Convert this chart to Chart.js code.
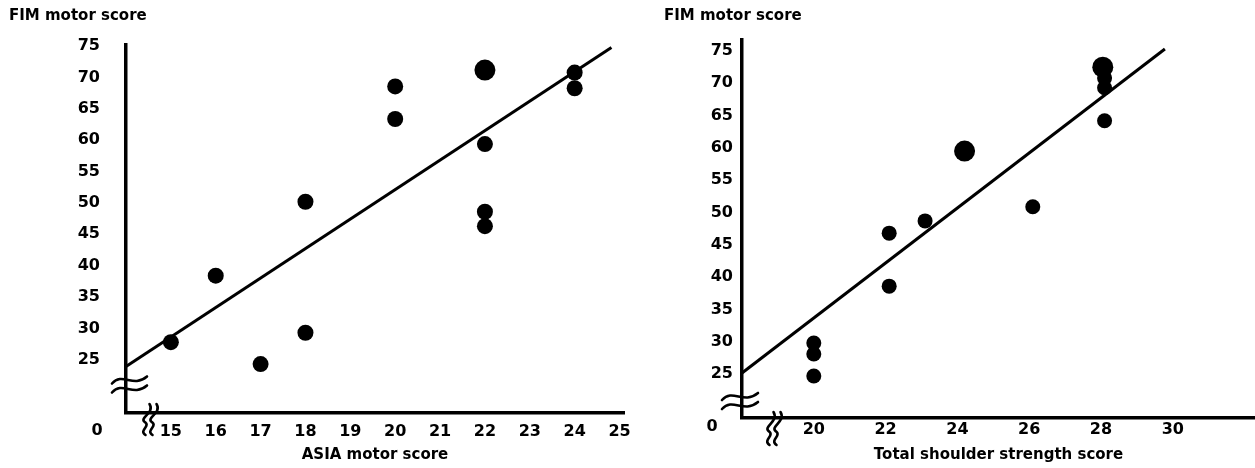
<!DOCTYPE html>
<html><head><meta charset="utf-8">
<script src="https://cdn.jsdelivr.net/npm/chart.js@4.4.1/dist/chart.umd.min.js"></script>
<style>
html,body{margin:0;padding:0;background:#fff;}
#wrap{position:relative;width:1255px;height:468px;overflow:hidden;background:#fff;}
canvas{position:absolute;top:0;}
#c1{left:0;} #c2{left:640px;}
</style></head><body>
<div id="wrap"><canvas id="c1" width="640" height="468"></canvas><canvas id="c2" width="615" height="468"></canvas></div>
<script>
// ---- data ----
const fimTitle = 'FIM motor score';
const asiaTitle = 'ASIA motor score';
const shoulderTitle = 'Total shoulder strength score';
const fimTicks = [25, 30, 35, 40, 45, 50, 55, 60, 65, 70, 75];
const zeroLabel = '0';
const asiaTicks = [15, 16, 17, 18, 19, 20, 21, 22, 23, 24, 25];
const shoulderTicks = [20, 22, 24, 26, 28, 30];

const asiaX   = [15, 16, 17, 18, 18, 20, 20, 22, 22, 22, 24, 24];
const asiaFim = [27.8, 38.4, 24.3, 29.3, 50.2, 68.6, 63.4, 59.4, 48.6, 46.3, 70.8, 68.3];
const asiaBigX   = [22];
const asiaBigFim = [71.2];
const asiaFitX   = [14, 24.82];
const asiaFitFim = [23.9, 74.8];

const shX   = [20, 20, 20, 22.1, 22.1, 23.1, 26.1, 28.1, 28.1, 28.1];
const shFim = [29.8, 28.1, 24.7, 46.8, 38.6, 48.7, 50.9, 70.8, 69.3, 64.2];
const shBigX   = [24.2, 28.05];
const shBigFim = [59.5, 72.5];
const shFitX   = [18, 29.78];
const shFitFim = [25.15, 75.3];

// ---- helpers ----
const pts = (xs, ys) => xs.map((x, i) => ({x: x, y: ys[i]}));
Chart.defaults.font.family = '"DejaVu Sans", sans-serif';
Chart.defaults.font.weight = 'bold';
Chart.defaults.font.size = 15;
Chart.defaults.color = '#000';

const breakPlugin = {
  id: 'breaks',
  afterDraw(chart, args, o) {
    const {ctx, chartArea: a} = chart;
    ctx.save();
    ctx.strokeStyle = '#000';
    ctx.lineWidth = 2.6;
    ctx.lineCap = 'round';
    // y-axis break: two tilde curves across the axis
    for (const dy of [-4.5, 4.5]) {
      const x0 = a.left + o.yb.x0, x1 = a.left + o.yb.x1, y = a.bottom + o.yb.y + dy;
      const w = x1 - x0;
      ctx.beginPath();
      ctx.moveTo(x0, y + 3);
      ctx.bezierCurveTo(x0 + w * 0.3, y - 9, x0 + w * 0.6, y + 8, x1, y - 4);
      ctx.stroke();
    }
    // x-axis break: two wavy vertical lines
    for (const dx of [-3.5, 3.5]) {
      const x = a.left + o.xb.x + dx, y0 = a.bottom + o.xb.y0, y1 = a.bottom + o.xb.y1;
      const h = y1 - y0;
      ctx.beginPath();
      ctx.moveTo(x + 3, y0);
      ctx.bezierCurveTo(x + 9, y0 + h * 0.3, x - 9, y0 + h * 0.45, x - 1, y0 + h * 0.6);
      ctx.bezierCurveTo(x + 4, y0 + h * 0.72, x - 8, y0 + h * 0.85, x - 1, y1);
      ctx.stroke();
    }
    // "0" label of the broken origin
    ctx.fillStyle = '#000';
    ctx.font = 'bold 16px "DejaVu Sans", sans-serif';
    ctx.textAlign = 'center';
    ctx.textBaseline = 'middle';
    ctx.fillText(zeroLabel, a.left + o.zero.dx, a.bottom + o.zero.dy);
    ctx.restore();
  }
};

function makeChart(id, cfg) {
  const ds = [
    {data: pts(cfg.fitX, cfg.fitY), showLine: true, borderColor: '#000', borderWidth: 3,
     pointRadius: 0, fill: false, clip: false, order: 3},
    {data: pts(cfg.x, cfg.y), backgroundColor: '#000', borderWidth: 0,
     pointRadius: cfg.r, pointHoverRadius: cfg.r, clip: false, order: 1},
    {data: pts(cfg.bx, cfg.by), backgroundColor: '#000', borderWidth: 0,
     pointRadius: cfg.br, pointHoverRadius: cfg.br, clip: false, order: 2}
  ];
  return new Chart(document.getElementById(id), {
    type: 'scatter',
    data: {datasets: ds},
    plugins: [breakPlugin],
    options: {
      responsive: false,
      animation: false,
      events: [],
      layout: {autoPadding: false,
               padding: {left: cfg.padLeft, right: cfg.padRight, top: 0, bottom: 0}},
      plugins: {
        legend: {display: false},
        tooltip: {enabled: false},
        title: {display: true, text: fimTitle, align: 'start',
                font: {size: 15, weight: 'bold'}, color: '#000',
                padding: {top: 7, bottom: cfg.titleBottom}},
        breaks: cfg.breaks
      },
      scales: {
        x: {
          type: 'linear', min: cfg.xmin, max: cfg.xmax,
          afterBuildTicks: s => { s.ticks = cfg.xticks.map(v => ({value: v})); },
          afterFit: s => { s.height = cfg.xh; s.paddingLeft = 0; s.paddingRight = 0; },
          grid: {display: false, drawTicks: false, tickLength: 0},
          border: {display: true, color: '#000', width: 3.5},
          ticks: {padding: cfg.xpad, autoSkip: false, maxRotation: 0,
                  font: {size: 16, weight: 'bold'}, color: '#000'},
          title: {display: true, text: cfg.xtitle, color: '#000',
                  font: {size: 15, weight: 'bold'}, padding: {top: 4, bottom: 4}}
        },
        y: {
          type: 'linear', min: cfg.ymin, max: cfg.ymax,
          afterBuildTicks: s => { s.ticks = fimTicks.map(v => ({value: v})); },
          afterFit: s => { s.width = cfg.yw; s.paddingTop = 0; s.paddingBottom = 0; },
          grid: {display: false, drawTicks: false, tickLength: 0},
          border: {display: true, color: '#000', width: 3.5},
          ticks: {padding: cfg.ypad, autoSkip: false,
                  font: {size: 16, weight: 'bold'}, color: '#000'}
        }
      }
    }
  });
}

makeChart('c1', {
  x: asiaX, y: asiaFim, bx: asiaBigX, by: asiaBigFim, fitX: asiaFitX, fitY: asiaFitFim,
  r: 8, br: 10.5,
  padLeft: 9, padRight: 16, titleBottom: 20, yw: 117, ypad: 26, xh: 55, xpad: 9,
  xmin: 14, xmax: 25.1, ymin: 16.5, ymax: 75.2,
  xticks: asiaTicks, xtitle: asiaTitle,
  breaks: {yb: {x0: -14, x1: 21, y: -28}, xb: {x: 24, y0: -9, y1: 22}, zero: {dx: -29, dy: 18}}
});

makeChart('c2', {
  x: shX, y: shFim, bx: shBigX, by: shBigFim, fitX: shFitX, fitY: shFitFim,
  r: 7.5, br: 10.5,
  padLeft: 24, padRight: 0, titleBottom: 15, yw: 78, ypad: 9, xh: 50, xpad: 2,
  xmin: 18, xmax: 32.29, ymin: 18.19, ymax: 76.7,
  xticks: shoulderTicks, xtitle: shoulderTitle,
  breaks: {yb: {x0: -20, x1: 16, y: -16.5}, xb: {x: 32, y0: -6, y1: 27}, zero: {dx: -30, dy: 9}}
});
</script>
</body></html>
